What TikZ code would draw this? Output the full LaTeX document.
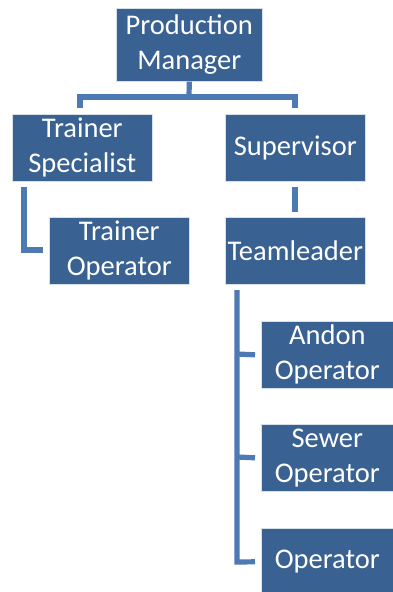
\documentclass[tikz,border=0pt]{standalone}
\usepackage{fontspec}
\setmainfont{Carlito}
\definecolor{boxfill}{RGB}{57,97,146}
\definecolor{linkcol}{RGB}{77,122,178}
\begin{document}
\begin{tikzpicture}[x=1pt,y=-1pt,
  orgbox/.style={draw=white!80!boxfill,line width=0.6pt,fill=boxfill,text=white,
    inner sep=0pt,anchor=north west,align=center,
    font=\fontsize{28.5}{35}\selectfont},
  link/.style={draw=linkcol,line width=5.2pt}]
\fill[white] (0,0) rectangle (393,592);
\useasboundingbox (0,0) rectangle (393,592);
\node[orgbox,minimum width=146pt,minimum height=73pt] (pm) at (116,8) {Production\\Manager};
\node[orgbox,minimum width=140pt,minimum height=67pt] (ts) at (12,114) {Trainer\\Specialist};
\node[orgbox,minimum width=140pt,minimum height=67pt] (sv) at (225,114) {Supervisor};
\node[orgbox,minimum width=140pt,minimum height=67pt] (to) at (49,217) {Trainer\\Operator};
\node[orgbox,minimum width=140pt,minimum height=67pt] (tl) at (225,217) {Teamleader};
\node[orgbox,minimum width=132pt,minimum height=67pt] (an) at (261,321) {Andon\\Operator};
\node[orgbox,minimum width=132pt,minimum height=67pt] (se) at (261,424) {Sewer\\Operator};
\node[orgbox,minimum width=132pt,minimum height=67pt] (op) at (261,528) {Operator};
% connectors
\coordinate (bar) at (189,97);
\coordinate (lt) at (80,97);
\coordinate (rt) at (295,97);
\coordinate (ld) at (80,108);
\coordinate (rd) at (295,108);
\draw[link] (pm.south) -- (bar);
\draw[link] (ld) -- (lt) -- (rt) -- (rd);
\coordinate (tsa) at (24,187);
\coordinate (tsb) at (24,250);
\coordinate (tsc) at (43,250);
\draw[link] (tsa) -- (tsb) -- (tsc);
\coordinate (sva) at (295,187);
\coordinate (svb) at (295,212);
\draw[link] (sva) -- (svb);
\coordinate (tla) at (237,290);
\coordinate (tlb) at (237,562);
\coordinate (anb) at (237,354);
\coordinate (seb) at (237,457);
\draw[link] (tla) -- (tlb) -- ([xshift=-6pt]op.west);
\draw[link] (anb) -- ([xshift=-6pt]an.west);
\draw[link] (seb) -- ([xshift=-6pt]se.west);
\end{tikzpicture}
\end{document}
